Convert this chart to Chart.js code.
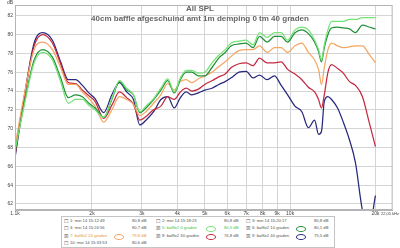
<!DOCTYPE html>
<html>
<head>
<meta charset="utf-8">
<script src="https://cdn.jsdelivr.net/npm/chart.js@4/dist/chart.umd.min.js"></script>
<style>
  body { margin: 0; background: #fff; }
  #wrap { position: relative; width: 400px; height: 248px; font-family: 'Liberation Sans', Arial, sans-serif; }
  .t1 { position: absolute; left: 0; width: 400px; text-align: center; top: 4px; font-size: 8px; font-weight: bold; color: #666; line-height: 9px; }
  .t2 { position: absolute; left: 0; width: 400px; text-align: center; top: 14px; font-size: 8px; font-weight: bold; color: #666; line-height: 9px; }
  .db { position: absolute; left: 7px; top: -1px; font-size: 5px; color: #444; }
  #leg { position: absolute; left: 61px; top: 216px; width: 272px; height: 30px; border: 1px solid #c4c4c4; background: #fff; }
  #leg span { position: absolute; font-size: 4.2px; line-height: 6px; color: #555; white-space: nowrap; }
  #leg i { position: absolute; width: 8px; height: 4px; border-radius: 50%; border: 0.8px solid; }
</style>
</head>
<body>
<div id="wrap">
  <canvas id="c" width="400" height="248"></canvas>
  <div class="t1">All SPL</div>
  <div class="t2">40cm baffle afgeschuind amt 1m demping 0 tm 40 graden</div>
  <div class="db">dB</div>
  <div id="leg"></div>
</div>
<script>
// frequencies (Hz)
const freqHz = [1070, 1150, 1250, 1340, 1450, 1550, 1650, 1750, 1850, 1950,
  2050, 2200, 2350, 2500, 2650, 2800, 2950, 3100, 3300, 3500,
  3700, 3900, 4100, 4300, 4500, 4750, 5000, 5300, 5600, 5900,
  6200, 6600, 7000, 7400, 7800, 8300, 8800, 9300, 9800, 10400,
  11000, 11600, 12200, 12600, 12900, 13200, 13600, 14000, 14700, 15400,
  16200, 17000, 18000, 19000, 20000]

// SPL in dB per measurement
const graden0 = [67.7, 72.3, 77.0, 78.1, 77.3, 75.0, 72.7, 73.1, 73.1, 72.5,
  72.0, 71.2, 73.2, 75.1, 74.3, 73.6, 71.8, 72.4, 73.2, 74.3,
  75.3, 73.9, 75.4, 76.2, 76.2, 75.9, 76.0, 77.0, 77.8, 78.4,
  79.1, 79.3, 79.4, 78.9, 80.2, 79.7, 80.2, 80.2, 79.4, 80.5,
  80.8, 80.5, 79.4, 78.4, 77.3, 78.9, 80.5, 81.4, 81.4, 81.4,
  81.6, 81.6, 81.8, 81.8, 81.8]
const graden10 = [67.5, 72.5, 77.3, 78.4, 77.6, 75.4, 73.3, 73.6, 73.4, 72.7,
  72.2, 71.2, 73.1, 75.0, 74.1, 73.6, 71.7, 72.2, 73.1, 74.1,
  75.1, 73.8, 75.2, 76.0, 76.0, 75.6, 75.6, 76.5, 77.5, 78.1,
  78.8, 79.0, 79.1, 78.6, 79.8, 79.2, 79.8, 79.8, 79.2, 80.2,
  80.5, 80.1, 79.2, 78.2, 77.1, 78.6, 80.0, 80.7, 80.8, 80.7,
  80.6, 80.2, 81.0, 80.8, 80.6]
const graden20 = [68.1, 73.4, 78.4, 79.2, 78.4, 76.5, 74.7, 74.7, 73.9, 73.2,
  72.4, 70.7, 72.0, 73.4, 73.1, 72.6, 71.4, 71.8, 72.7, 73.6,
  74.8, 74.1, 75.0, 75.2, 74.9, 75.3, 75.6, 76.0, 76.6, 77.1,
  77.7, 78.3, 78.4, 78.4, 78.8, 78.1, 78.6, 78.6, 78.1, 78.8,
  79.1, 78.1, 77.3, 76.3, 74.7, 76.5, 78.4, 79.1, 78.8, 78.6,
  78.7, 78.8, 78.8, 77.9, 77.0]
const graden30 = [67.2, 73.1, 78.8, 80.0, 79.1, 76.9, 74.9, 74.8, 74.1, 73.5,
  72.9, 71.1, 72.5, 73.9, 73.3, 72.6, 70.9, 71.3, 72.0, 72.4,
  73.4, 73.1, 73.9, 74.3, 74.0, 74.2, 74.7, 75.1, 75.5, 75.8,
  76.5, 76.9, 77.0, 76.7, 77.5, 77.0, 77.0, 77.1, 76.3, 75.8,
  75.2, 74.4, 73.9, 73.1, 72.2, 73.6, 76.0, 76.8, 76.4, 75.9,
  75.0, 74.6, 73.4, 70.7, 68.1]
const graden40 = [66.9, 73.1, 79.1, 80.2, 79.4, 77.1, 75.2, 75.2, 74.6, 73.8,
  73.2, 71.7, 73.6, 74.9, 73.9, 73.1, 70.4, 70.9, 71.8, 73.1,
  73.4, 72.2, 73.3, 73.9, 73.6, 73.8, 74.1, 74.3, 74.7, 75.0,
  75.4, 76.0, 76.1, 75.4, 75.7, 75.2, 75.6, 74.6, 73.6, 72.4,
  71.8, 70.1, 70.9, 69.4, 69.7, 72.9, 73.4, 73.1, 72.2, 70.7,
  68.8, 66.4, 61.3, 59.5, 62.9]

// axis ticks
const xTicks = [1070, 2000, 3000, 4000, 5000, 6000, 7000, 8000, 9000, 10000, 20000, 22500]
const xTickLabels = ['1.1k', '2k', '3k', '4k', '5k', '6k', '7k', '8k', '9k', '10k', '20k', '22,05 kHz']
const yTicks = [62, 64, 66, 68, 70, 72, 74, 76, 78, 80, 82]

const seriesNames = ['5: baffle2 0 graden', '6: baffle2 10 graden', '7: baffle2 20 graden', '8: baffle2 30 graden', '9: baffle2 40 graden']
const seriesColors = ['#74e274', '#22903a', '#f4a662', '#c42a40', '#28287e']
const seriesValues = [graden0, graden10, graden20, graden30, graden40]

// legend rows as in REW
const legendItems = [
  { col: 0, row: 0, on: false, name: '1: mei 14 15:12:49', val: '80,8 dB' },
  { col: 0, row: 1, on: false, name: '4: mei 14 15:24:56', val: '80,7 dB' },
  { col: 0, row: 2, on: true, name: '7: baffle2 20 graden', val: '79,8 dB', s: 2, tc: '#e8963a' },
  { col: 0, row: 3, on: false, name: '10: mei 14 15:33:53', val: '80,6 dB' },
  { col: 1, row: 0, on: false, name: '2: mei 14 15:18:23', val: '80,8 dB' },
  { col: 1, row: 1, on: true, name: '5: baffle2 0 graden', val: '80,5 dB', s: 0, tc: '#3cbf3c' },
  { col: 1, row: 2, on: true, name: '8: baffle2 30 graden', val: '76,8 dB', s: 3 },
  { col: 2, row: 0, on: false, name: '3: mei 14 15:20:17', val: '80,8 dB' },
  { col: 2, row: 1, on: true, name: '6: baffle2 10 graden', val: '80,1 dB', s: 1 },
  { col: 2, row: 2, on: true, name: '9: baffle2 40 graden', val: '75,5 dB', s: 4 },
]

const leg = document.getElementById('leg')
const colX = [2, 94, 184]
legendItems.forEach(it => {
  const x = colX[it.col], y = 1 + it.row * 7.4
  const box = document.createElement('span')
  box.textContent = it.on ? '\u2612' : '\u2610'
  box.style.left = x + 'px'; box.style.top = y + 'px'; box.style.fontSize = '5px'
  leg.appendChild(box)
  const nm = document.createElement('span')
  nm.textContent = it.name
  nm.style.left = (x + 6) + 'px'; nm.style.top = y + 'px'
  if (it.tc) nm.style.color = it.tc
  leg.appendChild(nm)
  if (it.s !== undefined) {
    const ic = document.createElement('i')
    ic.style.left = (x + 50) + 'px'; ic.style.top = (y + 0.8) + 'px'
    ic.style.borderColor = seriesColors[it.s]
    leg.appendChild(ic)
  }
  const v = document.createElement('span')
  v.textContent = it.val
  v.style.left = (x + 68) + 'px'; v.style.top = y + 'px'
  if (it.tc) v.style.color = it.tc
  leg.appendChild(v)
})

const frame = {
  id: 'frame',
  afterDraw(chart) {
    const a = chart.chartArea, c = chart.ctx
    c.save()
    c.strokeStyle = '#b4b4b4'
    c.lineWidth = 1
    c.strokeRect(a.left + 0.5, a.top + 0.5, a.right - a.left - 1, a.bottom - a.top - 1)
    c.restore()
  }
}

const fontFamily = "'Liberation Sans', Arial, sans-serif"

new Chart(document.getElementById('c'), {
  type: 'line',
  data: {
    datasets: seriesValues.map((vals, i) => ({
      label: seriesNames[i],
      data: freqHz.map((f, j) => ({ x: f, y: vals[j] })),
      borderColor: seriesColors[i],
      borderWidth: 1.25,
      pointRadius: 0,
      fill: false,
      cubicInterpolationMode: 'monotone',
    })),
  },
  options: {
    responsive: false,
    animation: false,
    layout: { padding: { left: 0, right: 7, top: 5, bottom: 0 } },
    plugins: { legend: { display: false }, tooltip: { enabled: false } },
    scales: {
      x: {
        type: 'logarithmic',
        min: 1070,
        max: 23000,
        afterBuildTicks: s => { s.ticks = xTicks.map(v => ({ value: v })) },
        afterFit: s => { s.height = 38 },
        ticks: {
          autoSkip: false, maxRotation: 0, padding: 1, color: '#444',
          font: ctx => ({ size: ctx.index === xTicks.length - 1 ? 4 : 5, family: fontFamily }),
          callback: (v, i) => xTickLabels[i],
        },
        grid: {
          drawTicks: false,
          color: ctx => (ctx.index === 0 || ctx.index === xTicks.length - 1) ? 'rgba(0,0,0,0)' : '#d4d4d4',
        },
        border: { color: '#b4b4b4' },
      },
      y: {
        type: 'linear',
        min: 61.36,
        max: 83.14,
        afterBuildTicks: s => { s.ticks = yTicks.map(v => ({ value: v })) },
        afterFit: s => { s.width = 15 },
        ticks: { padding: 2, color: '#444', font: { size: 5, family: fontFamily } },
        grid: { drawTicks: false, color: '#d4d4d4' },
        border: { color: '#b4b4b4' },
      },
    },
  },
  plugins: [frame],
})
</script>
</body>
</html>
